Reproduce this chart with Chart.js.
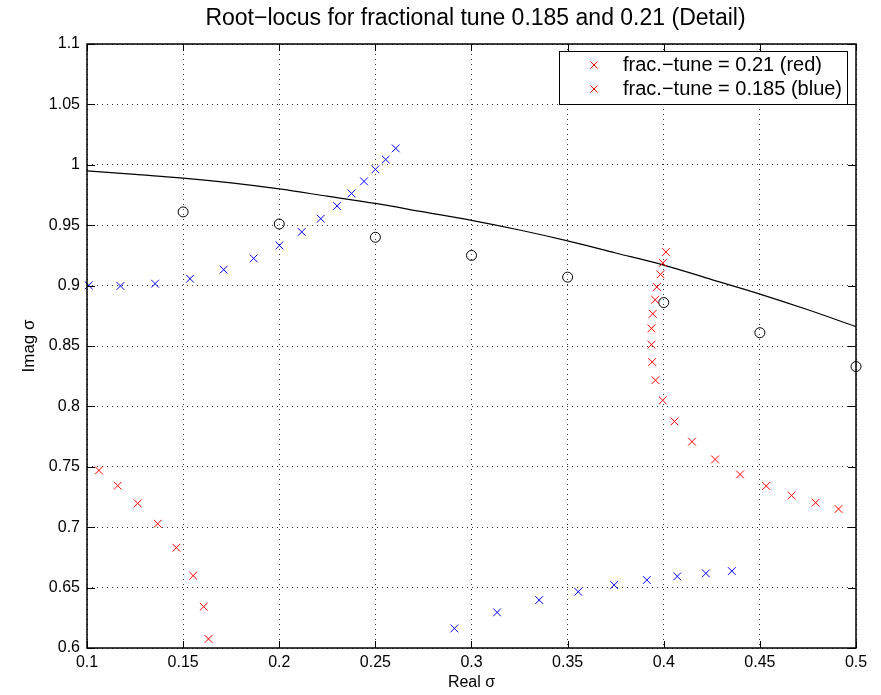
<!DOCTYPE html>
<html>
<head>
<meta charset="utf-8">
<script src="https://cdn.jsdelivr.net/npm/chart.js@4.4.1/dist/chart.umd.min.js"></script>
<style>
  html, body { margin: 0; padding: 0; background: #fff; }
</style>
</head>
<body>
<canvas id="chart" width="881" height="695"></canvas>
<script>
// tick values
const xTicks = [0.1, 0.15, 0.2, 0.25, 0.3, 0.35, 0.4, 0.45, 0.5];
const yTicks = [0.6, 0.65, 0.7, 0.75, 0.8, 0.85, 0.9, 0.95, 1, 1.05, 1.1];

// frac. tune 0.21 (red crosses)
const redX = [0.1062, 0.1160, 0.1264, 0.1368, 0.1465, 0.1552, 0.1607, 0.1632,
  0.4011, 0.3995, 0.3983, 0.3964, 0.3955, 0.3943, 0.3936, 0.3936, 0.3940, 0.3957,
  0.3995, 0.4056, 0.4147, 0.4267, 0.4397, 0.4533, 0.4665, 0.4790, 0.4909];
const redY = [0.7470, 0.7344, 0.7197, 0.7029, 0.6830, 0.6599, 0.6342, 0.6075,
  0.9278, 0.9187, 0.9093, 0.8988, 0.8883, 0.8767, 0.8646, 0.8511, 0.8368, 0.8217,
  0.8050, 0.7876, 0.7708, 0.7561, 0.7437, 0.7341, 0.7263, 0.7203, 0.7151];

// frac. tune 0.185 (blue crosses)
const blueX = [0.1009, 0.1174, 0.1354, 0.1536, 0.1711, 0.1867, 0.2001, 0.2117, 0.2216,
  0.2301, 0.2376, 0.2441, 0.2500, 0.2554, 0.2606,
  0.2911, 0.3133, 0.3352, 0.3555, 0.3742, 0.3912, 0.4070, 0.4219, 0.4354];
const blueY = [0.9002, 0.8997, 0.9016, 0.9057, 0.9132, 0.9225, 0.9333, 0.9444, 0.9554,
  0.9659, 0.9763, 0.9863, 0.9962, 1.0044, 1.0136,
  0.6162, 0.6295, 0.6397, 0.6466, 0.6521, 0.6563, 0.6593, 0.6618, 0.6637];

// open circles
const circleX = [0.15, 0.2, 0.25, 0.3, 0.35, 0.4, 0.45, 0.5];
const circleY = [0.961, 0.951, 0.940, 0.925, 0.907, 0.886, 0.861, 0.833];

// solid black curve
const curveX = [0.1, 0.125, 0.15, 0.175, 0.2, 0.225, 0.25, 0.275, 0.3, 0.325, 0.35,
  0.375, 0.4, 0.425, 0.45, 0.475, 0.5];
const curveY = [0.995, 0.992, 0.989, 0.985, 0.980, 0.974, 0.968, 0.961, 0.954, 0.946,
  0.937, 0.927, 0.917, 0.905, 0.893, 0.880, 0.866];

const titleText = 'Root\u2212locus for fractional tune 0.185 and 0.21 (Detail)';
const legendLabels = ['frac.\u2212tune = 0.21 (red)', 'frac.\u2212tune = 0.185 (blue)'];

const toPoints = (xs, ys) => xs.map((x, i) => ({ x: x, y: ys[i] }));
const fmt = (v) => String(+Number(v).toFixed(2));
const FONT = 'Liberation Sans, Arial, Helvetica, sans-serif';

// title over the axes, box, inward ticks and legend like matlab
const matlabFrame = {
  id: 'matlabFrame',
  afterDraw(chart) {
    const ctx = chart.ctx;
    const a = chart.chartArea;
    const xs = chart.scales.x, ys = chart.scales.y;
    ctx.save();

    ctx.fillStyle = '#000';
    ctx.font = '23px ' + FONT;
    ctx.textAlign = 'center';
    ctx.textBaseline = 'middle';
    ctx.fillText(titleText, (a.left + a.right) / 2 + 4, 19);

    ctx.strokeStyle = '#000';
    ctx.lineWidth = 1;
    ctx.beginPath();
    xTicks.forEach(v => {
      const px = Math.round(xs.getPixelForValue(v)) + 0.5;
      ctx.moveTo(px, a.bottom); ctx.lineTo(px, a.bottom - 7);
      ctx.moveTo(px, a.top); ctx.lineTo(px, a.top + 7);
    });
    yTicks.forEach(v => {
      const py = Math.round(ys.getPixelForValue(v)) + 0.5;
      ctx.moveTo(a.left, py); ctx.lineTo(a.left + 8, py);
      ctx.moveTo(a.right, py); ctx.lineTo(a.right - 8, py);
    });
    ctx.stroke();
    ctx.lineWidth = 1.5;
    ctx.strokeRect(Math.round(a.left), Math.round(a.top), Math.round(a.right - a.left), Math.round(a.bottom - a.top));

    // legend
    const lx = 559.5, ly = 51.5, lw = 288, lh = 53;
    ctx.fillStyle = '#fff';
    ctx.fillRect(lx, ly, lw, lh);
    ctx.lineWidth = 1;
    ctx.strokeRect(lx, ly, lw, lh);
    ctx.font = '20px ' + FONT;
    ctx.textBaseline = 'middle';
    ctx.textAlign = 'left';
    legendLabels.forEach((t, i) => {
      const cy = 65 + i * 24;
      ctx.strokeStyle = '#ff0000';
      ctx.beginPath();
      ctx.moveTo(590.5, cy - 3.5); ctx.lineTo(597.5, cy + 3.5);
      ctx.moveTo(597.5, cy - 3.5); ctx.lineTo(590.5, cy + 3.5);
      ctx.stroke();
      ctx.fillStyle = '#000';
      ctx.fillText(t, 623, cy);
    });
    ctx.restore();
  }
};

new Chart(document.getElementById('chart').getContext('2d'), {
  type: 'scatter',
  data: {
    datasets: [
      {
        label: legendLabels[0],
        data: toPoints(redX, redY),
        showLine: false,
        clip: false,
        pointStyle: 'crossRot',
        pointRadius: 5.5,
        borderWidth: 1,
        borderColor: '#ff0000',
        backgroundColor: '#ff0000',
      },
      {
        label: legendLabels[1],
        data: toPoints(blueX, blueY),
        showLine: false,
        clip: false,
        pointStyle: 'crossRot',
        pointRadius: 5.5,
        borderWidth: 1,
        borderColor: '#0000ff',
        backgroundColor: '#0000ff',
      },
      {
        label: 'circles',
        data: toPoints(circleX, circleY),
        showLine: false,
        clip: false,
        pointStyle: 'circle',
        pointRadius: 5,
        borderWidth: 1,
        borderColor: '#000',
        backgroundColor: 'rgba(0,0,0,0)',
      },
      {
        label: 'curve',
        data: toPoints(curveX, curveY),
        showLine: true,
        pointRadius: 0,
        borderWidth: 1.2,
        borderColor: '#000',
        cubicInterpolationMode: 'monotone',
      },
    ],
  },
  options: {
    responsive: false,
    animation: false,
    events: [],
    layout: { padding: { left: 0, right: 25, top: 44, bottom: 0 } },
    plugins: {
      legend: { display: false },
      tooltip: { enabled: false },
      title: { display: false },
    },
    scales: {
      x: {
        type: 'linear',
        min: 0.1,
        max: 0.5,
        afterBuildTicks: (s) => { s.ticks = xTicks.map(v => ({ value: v })); },
        afterFit: (s) => { s.height = 47; },
        ticks: {
          color: '#000',
          font: { family: FONT, size: 16 },
          padding: 5,
          maxRotation: 0,
          callback: fmt,
        },
        grid: { color: 'rgba(0,0,0,0.8)', drawTicks: false },
        border: { display: false, dash: [1, 4] },
        title: {
          display: true,
          text: 'Real \u03c3',
          color: '#000',
          font: { family: FONT, size: 16 },
          padding: { top: 0, bottom: 3 },
        },
      },
      y: {
        type: 'linear',
        min: 0.6,
        max: 1.1,
        afterBuildTicks: (s) => { s.ticks = yTicks.map(v => ({ value: v })); },
        afterFit: (s) => { s.width = 87; },
        ticks: {
          color: '#000',
          font: { family: FONT, size: 16 },
          padding: 7,
          callback: fmt,
        },
        grid: { color: 'rgba(0,0,0,0.8)', drawTicks: false },
        border: { display: false, dash: [1, 4] },
        title: {
          display: true,
          text: 'Imag \u03c3',
          color: '#000',
          font: { family: FONT, size: 17 },
          padding: { top: 19, bottom: 0 },
        },
      },
    },
  },
  plugins: [matlabFrame],
});
</script>
</body>
</html>
